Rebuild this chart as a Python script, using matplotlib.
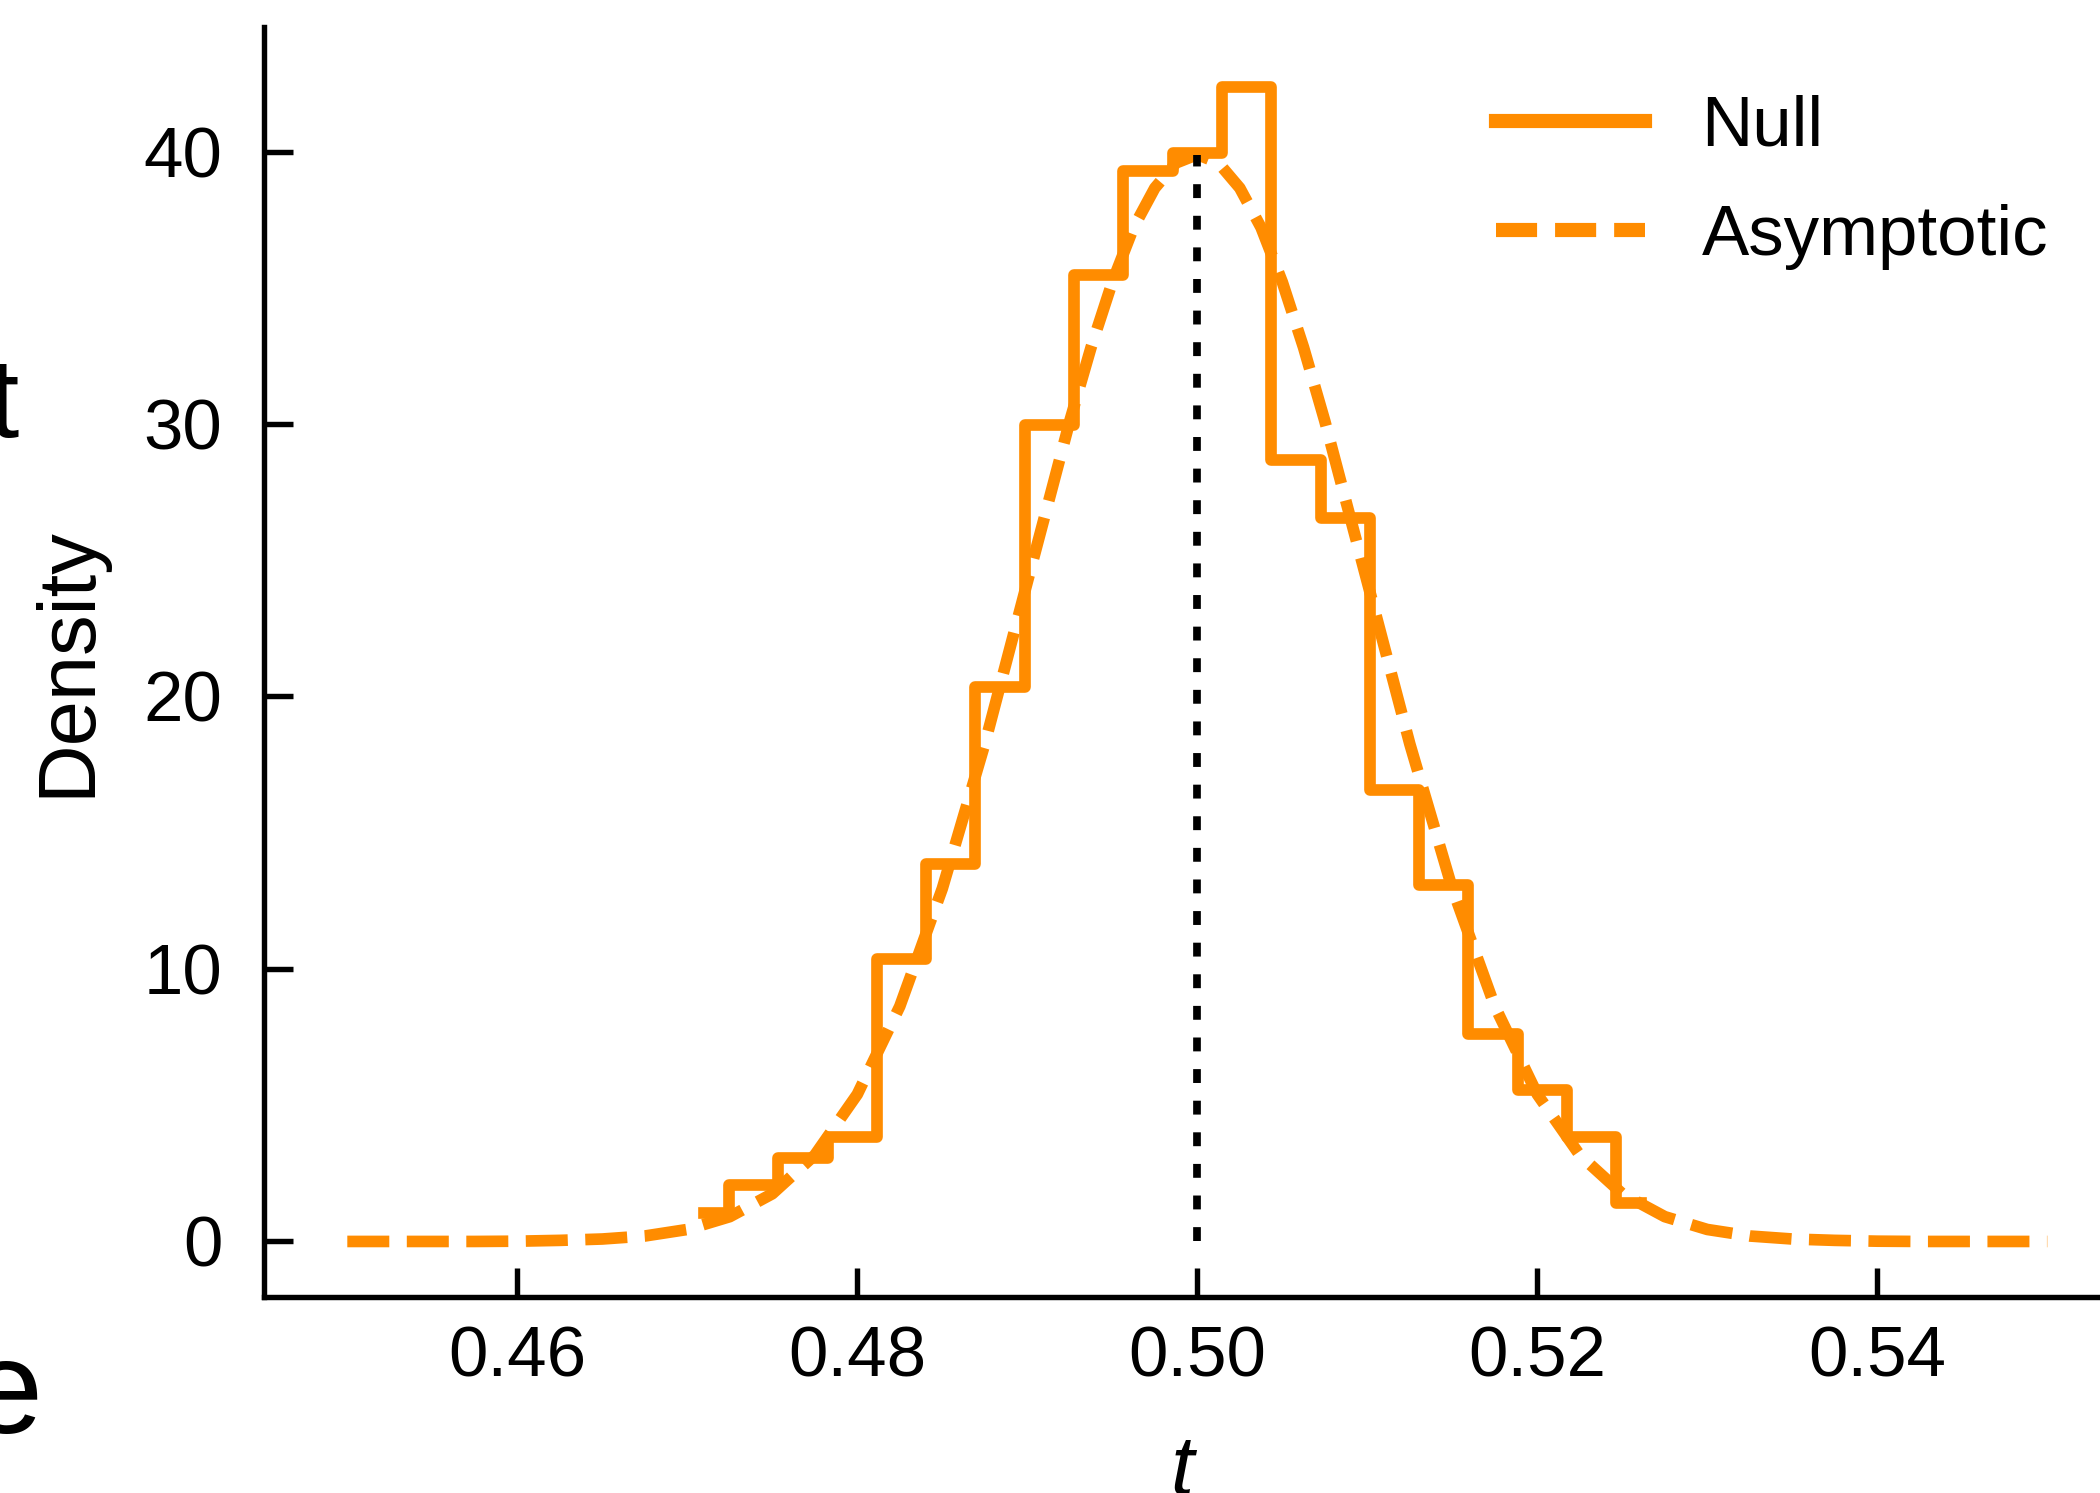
import matplotlib
matplotlib.use('Agg')
import matplotlib.pyplot as plt
from matplotlib.lines import Line2D

plt.rcParams['font.family'] = ['Liberation Sans', 'DejaVu Sans']

# histogram of the null statistic (bin centres, density)
bin_centres = [0.4710, 0.4739, 0.4768, 0.4797, 0.4826, 0.4855, 0.4884, 0.4913, 0.4942, 0.4971,
               0.5000, 0.5029, 0.5058, 0.5087, 0.5116, 0.5145, 0.5174, 0.5203, 0.5232, 0.5261]
null_density = [1.05, 2.07, 3.06, 3.83, 10.35, 13.85, 20.36, 29.96, 35.47, 39.28,
                 39.93, 42.36, 28.67, 26.54, 16.55, 13.10, 7.62, 5.57, 3.82, 1.42]

# asymptotic density
asym_t = [0.4500, 0.4525, 0.4550, 0.4575, 0.4600, 0.4625, 0.4650, 0.4675, 0.4700, 0.4725,
          0.4750, 0.4775, 0.4800, 0.4825, 0.4850, 0.4875, 0.4900, 0.49125, 0.4925, 0.49375,
          0.4950, 0.49625, 0.4975, 0.49875, 0.5000, 0.50125, 0.5025, 0.50375, 0.5050, 0.50625,
          0.5075, 0.50875, 0.5100, 0.5125, 0.5150, 0.5175, 0.5200, 0.5225,
          0.5250, 0.5275, 0.5300, 0.5325, 0.5350, 0.5375, 0.5400, 0.5425, 0.5450, 0.5475, 0.5500]
asym_density = [0.00, 0.00, 0.00, 0.00, 0.01, 0.04, 0.09, 0.20, 0.44, 0.91,
                1.75, 3.17, 5.40, 8.63, 12.95, 18.26, 24.20, 27.15, 30.11, 32.81,
                35.21, 37.21, 38.66, 39.58, 39.89, 39.58, 38.66, 37.21, 35.21, 32.81,
                30.11, 27.15, 24.20, 18.26, 12.95, 8.63, 5.40, 3.17,
                1.75, 0.91, 0.44, 0.20, 0.09, 0.04, 0.01, 0.00, 0.00, 0.00, 0.00]

t_centre = 0.5
x_ticks = [0.46, 0.48, 0.50, 0.52, 0.54]
y_ticks = [0, 10, 20, 30, 40]

orange = '#ff8c00'

fig = plt.figure(figsize=(7, 1493 / 300), dpi=300)
ax = fig.add_axes([264 / 2100, 1 - 1296.5 / 1493, 1 - 264 / 2100, (1296.5 - 27) / 1493])

ax.step(bin_centres, null_density, where='mid', color=orange, lw=2.8)
ax.plot(asym_t, asym_density, color=orange, lw=2.8, dashes=(3.6, 1.5))
ax.vlines(t_centre, 0, max(asym_density), color='black', lw=1.85,
          linestyles=[(0, (1.8, 2.3))], zorder=5)

ax.set_xlim(0.4451, 0.5531)
ax.set_ylim(-2.02, 44.57)
ax.set_xticks(x_ticks)
ax.set_xticklabels(['%.2f' % v for v in x_ticks])
ax.set_yticks(y_ticks)

for s in ['top', 'right']:
    ax.spines[s].set_visible(False)
for s in ['left', 'bottom']:
    ax.spines[s].set_linewidth(1.3)
ax.tick_params(direction='in', length=7, width=1.3, labelsize=17)
ax.tick_params(axis='y', pad=10)
ax.tick_params(axis='x', pad=7)

ax.set_ylabel('Density', fontsize=19.5, labelpad=9)
ax.set_xlabel('t', fontsize=20, fontstyle='italic', labelpad=10)

handles = [Line2D([], [], color=orange, lw=3.4),
           Line2D([], [], color=orange, lw=3.4, dashes=(2.9, 1.27))]
fig.legend(handles, ['Null', 'Asymptotic'], loc='upper left',
           bbox_to_anchor=(1496 / 2100, 1 - 95 / 1493), frameon=False,
           fontsize=17, handlelength=2.1, handletextpad=0.8,
           borderpad=0, borderaxespad=0, labelspacing=0.6)

# fragments of neighbouring panels cut by the crop
fig.text(-13 / 2100, 1 - 437 / 1493, 't', fontsize=27, ha='left', va='baseline')
fig.text(-32 / 2100, 1 - 1433 / 1493, 'e', fontsize=32, ha='left', va='baseline')

fig.savefig('out.png', dpi=300)
